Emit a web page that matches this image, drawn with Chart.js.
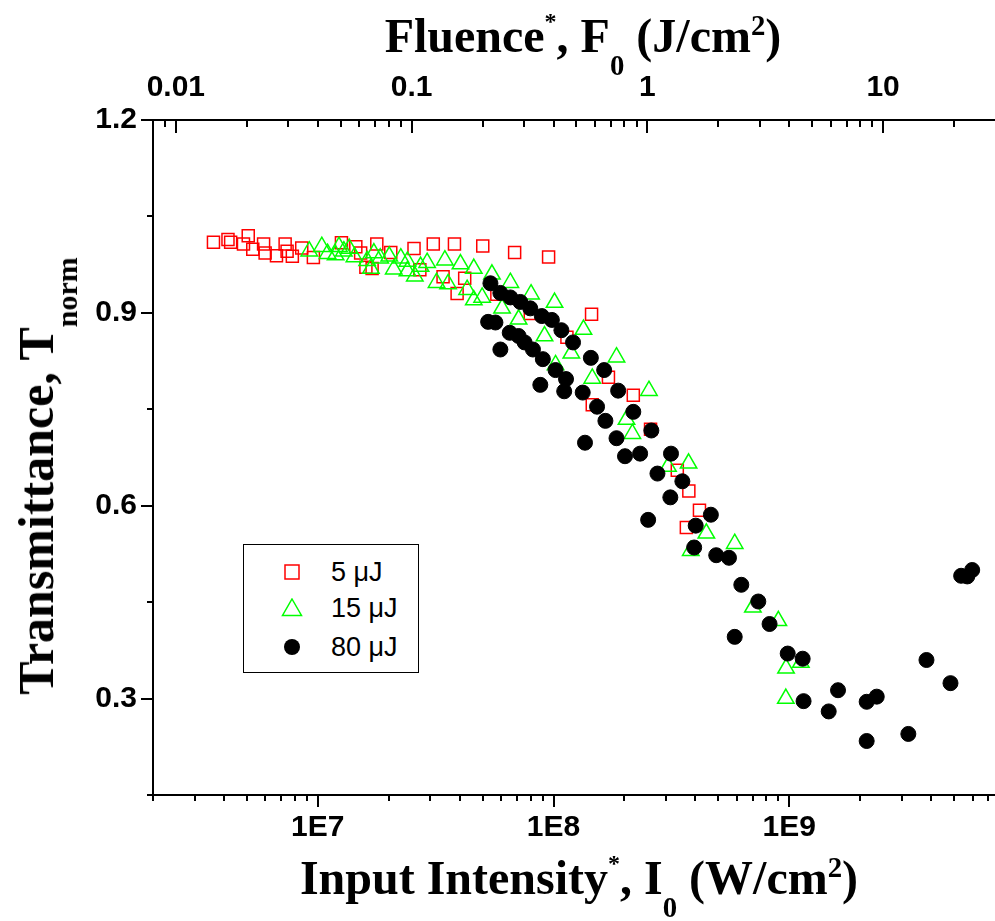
<!DOCTYPE html>
<html>
<head>
<meta charset="utf-8">
<title>Transmittance vs input intensity</title>
<script src="https://cdn.jsdelivr.net/npm/chart.js@4.4.1/dist/chart.umd.min.js"></script>
<style>
  html, body { margin: 0; padding: 0; background: #fff; overflow: hidden; }
  #page { position: relative; width: 995px; height: 921px; overflow: hidden; background: #fff; }
  #plot { position: absolute; left: 0; top: 0; }
  .axis-title { position: absolute; font-family: "Liberation Serif", "Times New Roman", serif; font-weight: bold;
    font-size: 48px; line-height: 48px; white-space: nowrap; color: #000; }
  .axis-title sup, .axis-title sub { font-size: 60%; line-height: 0; position: relative; vertical-align: baseline; }
  .axis-title sup { top: -0.6em; }
  .axis-title sup.star { font-size: 50%; top: -0.95em; }
  .axis-title sub { top: 0.8em; }
  #ttl-y { font-size: 50px; line-height: 50px; }
  #legend { position: absolute; left: 243px; top: 544px; width: 176px; height: 129px; box-sizing: border-box;
    border: 1.5px solid #000; background: #fff; font-family: "Liberation Sans", Arial, sans-serif; font-size: 27px; color: #000; }
  #legend .row { position: absolute; left: 0; height: 0; }
  #legend svg { position: absolute; left: 37px; top: -10px; }
  #legend span { position: absolute; left: 87px; top: -16px; white-space: nowrap; line-height: 32px; }
</style>
</head>
<body>
<div id="page">
  <canvas id="plot" width="1040" height="921"></canvas>
  <div class="axis-title" id="ttl-top" style="left:583px; top:12px; transform:translateX(-50%);">Fluence<sup class="star">*</sup>, F<sub>0</sub> (J/cm<sup>2</sup>)</div>
  <div class="axis-title" id="ttl-x" style="left:579px; top:854px; transform:translateX(-50%);">Input Intensity<sup class="star">*</sup>, I<sub>0</sub> (W/cm<sup>2</sup>)</div>
  <div class="axis-title" id="ttl-y" style="left:36px; top:476px; transform:translate(-50%,-50%) rotate(-90deg);">Transmittance, T<sub>norm</sub></div>
  <div id="legend"></div>
</div>
<script>
// series: input intensity I0 (W/cm2) and normalised transmittance
const seriesNames = ['5 \u03bcJ', '15 \u03bcJ', '80 \u03bcJ'];

const i5 = [3.61e6, 4.16e6, 4.27e6, 5.07e6, 4.84e6, 5.30e6, 5.89e6, 5.98e6, 6.68e6, 7.27e6,
  7.41e6, 7.80e6, 8.55e6, 9.58e6, 1.26e7, 1.45e7, 1.52e7, 1.78e7, 2.04e7, 2.56e7,
  3.09e7, 3.80e7, 5.01e7, 6.84e7, 9.53e7, 1.60e7, 1.70e7, 2.71e7, 3.40e7, 4.20e7,
  3.90e7, 5.75e7, 7.97e7, 1.45e8, 1.14e8, 1.71e8, 2.18e8, 1.46e8, 2.58e8, 3.35e8,
  3.75e8, 4.16e8, 3.66e8];
const t5 = [1.010, 1.014, 1.010, 1.020, 1.007, 0.999, 1.007, 0.993, 0.989, 1.007,
  0.996, 0.988, 1.001, 0.986, 1.009, 1.003, 0.993, 1.007, 0.994, 1.000,
  1.007, 1.007, 1.004, 0.994, 0.987, 0.971, 0.969, 0.967, 0.956, 0.954,
  0.930, 0.929, 0.899, 0.898, 0.862, 0.800, 0.772, 0.757, 0.719, 0.655,
  0.623, 0.593, 0.566];

const i15 = [9.20e6, 1.04e7, 1.10e7, 1.19e7, 1.23e7, 1.29e7, 1.36e7, 1.43e7, 1.62e7, 1.68e7,
  1.73e7, 1.84e7, 2.01e7, 2.10e7, 2.25e7, 2.40e7, 2.40e7, 2.58e7, 2.73e7, 2.91e7,
  3.19e7, 3.46e7, 3.57e7, 4.03e7, 4.59e7, 4.30e7, 4.59e7, 4.98e7, 5.48e7, 6.56e7,
  6.05e7, 7.11e7, 8.03e7, 1.01e8, 9.16e7, 1.19e8, 1.34e8, 1.02e8, 1.46e8, 1.85e8,
  2.54e8, 2.04e8, 2.16e8, 3.06e8, 3.74e8, 4.45e8, 5.87e8, 3.82e8, 7.01e8, 8.99e8,
  9.69e8, 1.12e9, 9.67e8];
const t15 = [0.996, 1.003, 0.992, 0.990, 1.003, 0.996, 1.000, 0.987, 0.981, 0.969,
  0.993, 0.985, 0.988, 0.968, 0.985, 0.980, 0.965, 0.957, 0.972, 0.978,
  0.947, 0.982, 0.945, 0.976, 0.969, 0.936, 0.920, 0.924, 0.960, 0.947,
  0.907, 0.890, 0.929, 0.916, 0.864, 0.837, 0.874, 0.819, 0.798, 0.831,
  0.779, 0.734, 0.712, 0.661, 0.666, 0.557, 0.541, 0.530, 0.442, 0.421,
  0.347, 0.356, 0.300];

const i80 = [5.40e7, 5.95e7, 6.56e7, 7.23e7, 7.97e7, 8.92e7, 9.84e7, 1.08e8, 1.21e8, 5.28e7,
  5.67e7, 6.52e7, 7.11e7, 7.54e7, 8.18e7, 5.95e7, 9.01e7, 1.02e8, 1.13e8, 8.79e7,
  1.11e8, 1.33e8, 1.44e8, 1.64e8, 1.88e8, 1.53e8, 1.66e8, 2.18e8, 1.85e8, 1.36e8,
  2.60e8, 2.01e8, 2.33e8, 3.15e8, 2.76e8, 3.52e8, 3.13e8, 2.52e8, 4.65e8, 4.01e8,
  3.95e8, 4.90e8, 5.55e8, 6.26e8, 7.39e8, 8.25e8, 5.87e8, 9.85e8, 1.14e9, 1.61e9,
  1.15e9, 1.47e9, 2.13e9, 2.35e9, 2.13e9, 3.20e9, 3.82e9, 4.83e9, 5.36e9, 5.69e9,
  5.97e9];
const t80 = [0.946, 0.931, 0.924, 0.917, 0.907, 0.895, 0.889, 0.873, 0.854, 0.886,
  0.885, 0.869, 0.864, 0.854, 0.843, 0.843, 0.828, 0.811, 0.797, 0.788,
  0.778, 0.776, 0.830, 0.811, 0.779, 0.754, 0.732, 0.746, 0.705, 0.698,
  0.717, 0.677, 0.681, 0.681, 0.650, 0.638, 0.613, 0.578, 0.586, 0.569,
  0.535, 0.523, 0.519, 0.477, 0.451, 0.416, 0.396, 0.370, 0.362, 0.313,
  0.296, 0.280, 0.295, 0.303, 0.234, 0.245, 0.360, 0.324, 0.491, 0.490,
  0.500];

// axes
const xMin = 2e6, xMax = 1e10;
const tau = 4e-9;               // fluence = intensity * pulse length
const yMin = 0.15, yMax = 1.2, yStep = 0.15;
const xTicks = [1e7, 1e8, 1e9];
const xTickText = ['1E7', '1E8', '1E9'];
const fTicks = [0.01, 0.1, 1, 10];
const fTickText = ['0.01', '0.1', '1', '10'];
const yTicks = [0.3, 0.6, 0.9, 1.2];
const yTickText = ['0.3', '0.6', '0.9', '1.2'];

const pts = (xs, ys) => xs.map((x, k) => ({ x: x, y: ys[k] }));

function labelFor(values, texts) {
  return v => {
    const k = values.findIndex(t => Math.abs(v / t - 1) < 1e-6);
    return k < 0 ? '' : texts[k];
  };
}

function logTicks(scale) {
  const out = [];
  const lo = Math.floor(Math.log10(scale.min)), hi = Math.ceil(Math.log10(scale.max));
  for (let e = lo; e <= hi; e++) {
    for (let m = 1; m <= 9; m++) {
      const v = m * Math.pow(10, e);
      if (v >= scale.min * (1 - 1e-9) && v <= scale.max * (1 + 1e-9)) out.push({ value: v });
    }
  }
  scale.ticks = out;
}

// Origin style ticks: long at labels, short between, top ones pointing inwards
const tickMarks = {
  id: 'tickMarks',
  afterDraw(chart) {
    const ctx = chart.ctx, a = chart.chartArea;
    ctx.save();
    ctx.strokeStyle = '#000';
    ctx.lineWidth = 2;
    ['x', 'x2', 'y'].forEach(id => {
      const s = chart.scales[id];
      s.ticks.forEach(t => {
        const p = Math.round(s.getPixelForValue(t.value));
        const len = t.label ? 12 : 6;
        ctx.beginPath();
        if (id === 'x') { ctx.moveTo(p, a.bottom); ctx.lineTo(p, a.bottom + len); }
        else if (id === 'x2') { ctx.moveTo(p, a.top); ctx.lineTo(p, a.top + len + 1); }
        else { ctx.moveTo(a.left, p); ctx.lineTo(a.left - len, p); }
        ctx.stroke();
      });
    });
    ctx.restore();
  }
};

const tickFont = { family: 'Liberation Sans', size: 30, weight: 'bold' };

new Chart(document.getElementById('plot'), {
  type: 'scatter',
  data: {
    datasets: [
      { label: seriesNames[0], data: pts(i5, t5), pointStyle: 'rect', pointRadius: 8.5,
        borderColor: '#ff0000', backgroundColor: 'rgba(0,0,0,0)', borderWidth: 1.5, pointBorderWidth: 1.5, order: 3 },
      { label: seriesNames[1], data: pts(i15, t15), pointStyle: 'triangle', pointRadius: 9.5,
        borderColor: '#00ff00', backgroundColor: 'rgba(0,0,0,0)', borderWidth: 1.5, pointBorderWidth: 1.5, order: 2 },
      { label: seriesNames[2], data: pts(i80, t80), pointStyle: 'circle', pointRadius: 7.5,
        borderColor: '#000', backgroundColor: '#000', borderWidth: 1, pointBorderWidth: 1, order: 1 }
    ]
  },
  options: {
    responsive: false,
    animation: false,
    events: [],
    layout: { padding: { left: 0, top: 0, right: 12, bottom: 0 } },
    plugins: { legend: { display: false }, tooltip: { enabled: false } },
    scales: {
      x: {
        type: 'logarithmic', position: 'bottom', min: xMin, max: xMax,
        afterBuildTicks: logTicks,
        afterFit: s => { s.height = 126; },
        grid: { display: false, drawTicks: false },
        border: { display: true, color: '#000', width: 2 },
        ticks: { autoSkip: false, maxRotation: 0, padding: 15, color: '#000', font: tickFont,
          callback: labelFor(xTicks, xTickText) }
      },
      x2: {
        type: 'logarithmic', position: 'top', min: xMin * tau, max: xMax * tau,
        afterBuildTicks: logTicks,
        afterFit: s => { s.height = 120; },
        grid: { display: false, drawTicks: false },
        border: { display: true, color: '#000', width: 2 },
        ticks: { autoSkip: false, maxRotation: 0, padding: 14, color: '#000', font: tickFont,
          callback: labelFor(fTicks, fTickText) }
      },
      y: {
        type: 'linear', position: 'left', min: yMin, max: yMax,
        afterBuildTicks: s => {
          const out = [];
          for (let v = yMin; v <= yMax + 1e-9; v += yStep) out.push({ value: Math.round(v * 100) / 100 });
          s.ticks = out;
        },
        afterFit: s => { s.width = 153; },
        grid: { display: false, drawTicks: false },
        border: { display: true, color: '#000', width: 2 },
        ticks: { autoSkip: false, padding: 16, color: '#000', font: tickFont,
          callback: labelFor(yTicks, yTickText) }
      }
    }
  },
  plugins: [tickMarks]
});

// legend box, built from the series names
const markers = [
  '<svg width="22" height="20"><rect x="4" y="3" width="14" height="14" fill="none" stroke="#ff0000" stroke-width="1.5"/></svg>',
  '<svg width="22" height="20"><polygon points="11,1 20.5,17.5 1.5,17.5" fill="none" stroke="#00ff00" stroke-width="1.5"/></svg>',
  '<svg width="22" height="20"><circle cx="11" cy="10" r="8" fill="#000"/></svg>'
];
const rowTops = [27, 63, 102];
const legend = document.getElementById('legend');
seriesNames.forEach((name, k) => {
  const row = document.createElement('div');
  row.className = 'row';
  row.style.top = rowTops[k] + 'px';
  row.innerHTML = markers[k] + '<span>' + name + '</span>';
  legend.appendChild(row);
});
</script>
</body>
</html>
